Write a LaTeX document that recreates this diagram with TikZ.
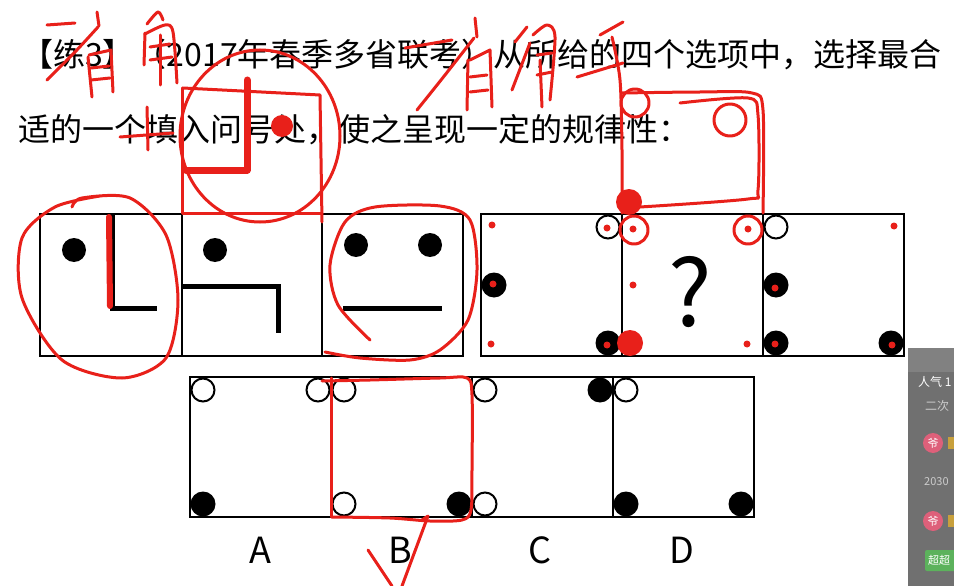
\documentclass[tikz,border=0pt]{standalone}
\usepackage{fontspec}
\setmainfont{Noto Sans CJK SC}
\definecolor{redink}{RGB}{232,32,26}
\definecolor{panelgray}{RGB}{112,112,112}
\definecolor{pinkicon}{RGB}{222,96,122}
\definecolor{greenbadge}{RGB}{92,178,92}
\definecolor{goldtext}{RGB}{200,160,60}
\begin{document}
\begin{tikzpicture}[x=1pt,y=-1pt,
  frame/.style={draw=black,line width=2.6pt},
  bar/.style={draw=black,line width=5pt},
  dotf/.style={fill=black},
  doto/.style={draw=black,fill=white,line width=2pt},
  ink/.style={draw=redink,line width=3pt,line cap=round,line join=round},
  txt/.style={inner sep=0pt,anchor=west,font=\fontsize{32}{32}\selectfont},
  lab/.style={inner sep=0pt,font=\fontsize{36}{36}\selectfont},
  chat/.style={inner sep=0pt,anchor=west,font=\fontsize{12}{12}\selectfont},
]
\useasboundingbox (0,0) rectangle (954,586);
\fill[white] (0,0) rectangle (954,586);

% ---- question text
\node[txt] (line1) at (21,55) {【练3】（2017年春季多省联考）从所给的四个选项中，选择最合};
\node[txt] (line2) at (18,130) {适的一个填入问号处，使之呈现一定的规律性：};

% ---- top-left group
\draw[frame] (40,214) rectangle (463,356);
\draw[frame] (182,214) -- (182,356);
\draw[frame] (322,214) -- (322,356);
\fill[dotf] (74,250) circle[radius=12pt];
\draw[bar] (112,214) -- (112,308) -- (157,308);
\fill[dotf] (215,250) circle[radius=12pt];
\draw[bar] (182,286) -- (278,286) -- (278,333);
\fill[dotf] (356,245) circle[radius=12pt];
\fill[dotf] (430,245) circle[radius=12pt];
\draw[bar] (343,308) -- (442,308);

% ---- top-right group
\draw[frame] (481,214) rectangle (904,356);
\draw[frame] (622,214) -- (622,356);
\draw[frame] (763,214) -- (763,356);
\draw[doto] (608,227) circle[radius=11.5pt];
\fill[dotf] (494,285) circle[radius=12.5pt];
\fill[dotf] (608,343) circle[radius=12.5pt];
\node[inner sep=0pt,font=\fontsize{92}{92}\selectfont] (qm) at (690,292) {?};
\draw[doto] (776,227) circle[radius=11.5pt];
\fill[dotf] (776,285) circle[radius=12.5pt];
\fill[dotf] (776,343) circle[radius=12.5pt];
\fill[dotf] (891,343) circle[radius=12.5pt];

% ---- options
\draw[frame] (190,377) rectangle (754,517);
\draw[frame] (331,377) -- (331,517);
\draw[frame] (472,377) -- (472,517);
\draw[frame] (613,377) -- (613,517);
% A
\draw[doto] (203,390) circle[radius=11.5pt];
\draw[doto] (318,390) circle[radius=11.5pt];
\fill[dotf] (203,504) circle[radius=12.5pt];
% B
\draw[doto] (344,390) circle[radius=11.5pt];
\draw[doto] (344,504) circle[radius=11.5pt];
\fill[dotf] (459,504) circle[radius=12.5pt];
% C
\draw[doto] (485,390) circle[radius=11.5pt];
\fill[dotf] (600,390) circle[radius=12.5pt];
\draw[doto] (485,504) circle[radius=11.5pt];
% D
\draw[doto] (626,390) circle[radius=11.5pt];
\fill[dotf] (626,504) circle[radius=12.5pt];
\fill[dotf] (741,504) circle[radius=12.5pt];
\node[lab] (la) at (260,550) {A};
\node[lab] (lb) at (400,550) {B};
\node[lab] (lc) at (540,550) {C};
\node[lab] (ld) at (682,550) {D};

% ---- side chat panel (cut off at the right edge)
\begin{scope}
\clip (0,0) rectangle (954,586);
\fill[panelgray] (908,348) rectangle (960,590);
\fill[panelgray!88!white] (908,348) rectangle (960,372);
\node[chat,text=white] (pop) at (918,382) {人气 1};
\node[chat,text=gray!40] (c1) at (925,406) {二次};
\fill[pinkicon] (933,443) circle[radius=10pt];
\node[inner sep=0pt,text=white,font=\fontsize{11}{11}\selectfont] (i1) at (933,443) {爷};
\fill[goldtext] (948,437) rectangle (954,449);
\node[chat,text=gray!40,font=\fontsize{11}{11}\selectfont] (c2) at (924,482) {2030};
\fill[pinkicon] (933,521) circle[radius=10pt];
\node[inner sep=0pt,text=white,font=\fontsize{11}{11}\selectfont] (i2) at (933,521) {爷};
\fill[goldtext] (948,515) rectangle (954,527);
\fill[greenbadge,rounded corners=2pt] (925,550) rectangle (962,571);
\node[chat,text=white,font=\fontsize{11}{11}\selectfont] (badge) at (928,560.5) {超超};
\end{scope}

% ---- red annotations
\begin{scope}[ink]
% handwriting, left
\draw (47,25) -- (75,23);
\draw (97,12) -- (99,26);
\draw plot[smooth] coordinates {(98,27) (75,52) (47,80)};
\draw (88,57) -- (92,97);
\draw (89,55) -- (111,50) -- (113,92);
\draw (91,68) -- (109,66);
\draw (91,80) -- (110,78);
\draw plot[smooth] coordinates {(147,24) (158,12) (163,20)};
\draw (145,33) -- (144,65);
\draw plot[smooth] coordinates {(145,34) (165,25) (173,32) (177,83)};
\draw (150,47) -- (170,44);
\draw (150,60) -- (172,57);
\draw (160,35) -- (160,85);
\draw (120,137) -- (173,133);
\draw (147,107) -- (148,150);
% handwriting, right
\draw (405,48) -- (452,40);
\draw (475,18) -- (477,37);
\draw plot[smooth] coordinates {(474,38) (445,75) (417,110)};
\draw (468,60) -- (467,110);
\draw (470,60) -- (490,50) -- (492,107);
\draw (470,77) -- (487,75);
\draw (470,92) -- (488,90);
\draw (527,27) -- (515,42);
\draw (530,43) -- (512,90);
\draw plot[smooth] coordinates {(533,35) (547,25) (555,37) (550,100)};
\draw (540,60) -- (542,107);
\draw (537,55) -- (552,53);
\draw (537,75) -- (552,72);
\draw (600,35) -- (623,22);
\draw (577,77) -- (623,63);
\draw plot[smooth] coordinates {(612,37) (620,80) (622,150) (622,213)};
% top-centre sketch
\draw (260,136) ellipse [x radius=80pt, y radius=86pt];
\draw (183,88) -- (320,95) -- (322,222);
\draw (182,88) -- (182,213) -- (322,213);
\draw[line width=7pt] (247,80) -- (247,170) -- (186,170);
\fill[redink] (282,126) circle[radius=11pt];
% top-right sketch
\draw plot[smooth] coordinates {(622,93) (700,92) (752,93) (763,110) (763,213)};
\draw plot[smooth] coordinates {(680,103) (748,98) (758,115) (758,190) (748,199) (640,207)};
\draw (730,120) circle[radius=16pt];
\draw (635,103) circle[radius=14pt];
\fill[redink] (629,202) circle[radius=13pt];
\draw (634,230) circle[radius=14pt];
\draw (748,230) circle[radius=14pt];
\fill[redink] (630,343) circle[radius=13pt];
\foreach \p in {(492,225),(493,284),(491,344),(607,228),(607,345),(633,229),(633,285),(747,344),(748,229),(775,288),(775,344),(894,226),(892,345)}
  \fill[redink] \p circle[radius=3.5pt];
% panel 1 ellipse and stroke over the L
\draw plot[smooth] coordinates {(72,207) (82,198) (130,198) (166,235) (178,300) (166,358) (122,378) (62,360) (22,298) (22,238) (55,207) (100,196)};
\draw[line width=6pt] (109,217) -- (110,306);
% panel 3 ellipse
\draw plot[smooth] coordinates {(370,340) (338,305) (330,265) (345,222) (375,207) (440,206) (470,220) (477,270) (468,320) (440,350) (410,360) (360,358) (325,352)};
% option B box and tick
\draw plot[smooth] coordinates {(322,381) (370,380) (440,378) (467,378) (472,395) (472,470) (471,510) (462,520) (430,521) (390,518) (332,517)};
\draw (331,378) -- (331,517);
\draw (368,550) -- (392,586);
\draw (402,586) -- (428,516) -- (422,520);
\end{scope}
\end{tikzpicture}
\end{document}
